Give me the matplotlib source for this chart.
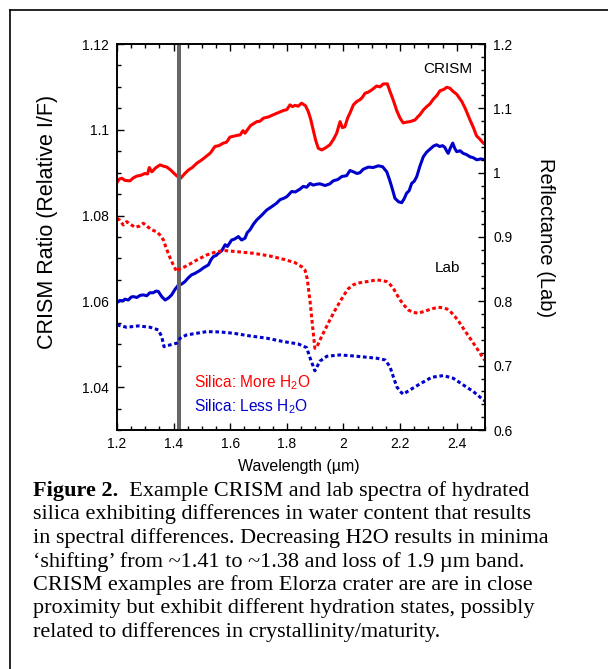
import matplotlib
matplotlib.use("Agg")
import matplotlib.pyplot as plt
from matplotlib.lines import Line2D
from matplotlib.ticker import MultipleLocator

plt.rcParams['font.family'] = ['Liberation Sans', 'DejaVu Sans']
plt.rcParams['mathtext.fontset'] = 'custom'
plt.rcParams['mathtext.rm'] = 'Liberation Sans'
plt.rcParams['mathtext.it'] = 'Liberation Sans:italic'

# --- CRISM spectra (left axis, relative I/F) ---
crism_more_x = [1.200, 1.208, 1.217, 1.228, 1.246, 1.258, 1.270, 1.285, 1.298, 1.308,
                1.314, 1.323, 1.338, 1.352, 1.365, 1.376, 1.390, 1.399, 1.412, 1.425,
                1.438, 1.452, 1.466, 1.482, 1.500, 1.517, 1.530, 1.546, 1.560, 1.576,
                1.587, 1.599, 1.612, 1.625, 1.635, 1.645, 1.652, 1.672, 1.694, 1.705,
                1.717, 1.735, 1.752, 1.770, 1.788, 1.800, 1.811, 1.820, 1.829, 1.840,
                1.852, 1.866, 1.876, 1.884, 1.893, 1.902, 1.911, 1.923, 1.937, 1.952,
                1.965, 1.976, 1.988, 1.996, 2.005, 2.015, 2.023, 2.035, 2.047, 2.058,
                2.066, 2.076, 2.088, 2.100, 2.117, 2.129, 2.141, 2.155, 2.164, 2.176,
                2.188, 2.200, 2.211, 2.224, 2.235, 2.253, 2.262, 2.270, 2.282, 2.294,
                2.305, 2.317, 2.330, 2.341, 2.354, 2.365, 2.376, 2.388, 2.400, 2.418,
                2.430, 2.447, 2.459, 2.470, 2.482, 2.494, 2.500]
crism_more_y = [1.0877, 1.0885, 1.0887, 1.0882, 1.0881, 1.0888, 1.0892, 1.0894, 1.0898, 1.0897,
                1.0912, 1.0902, 1.0912, 1.0918, 1.0915, 1.0913, 1.0906, 1.0900, 1.0892, 1.0887,
                1.0897, 1.0906, 1.0912, 1.0922, 1.0930, 1.0939, 1.0946, 1.0961, 1.0963, 1.0969,
                1.0971, 1.0983, 1.0985, 1.0987, 1.0988, 1.0998, 1.0992, 1.1010, 1.1019, 1.1020,
                1.1027, 1.1030, 1.1035, 1.1040, 1.1045, 1.1047, 1.1058, 1.1054, 1.1057, 1.1055,
                1.1062, 1.1056, 1.1042, 1.1025, 1.1000, 1.0975, 1.0957, 1.0953, 1.0958, 1.0965,
                1.0978, 1.0992, 1.1019, 1.1005, 1.1007, 1.1028, 1.1039, 1.1058, 1.1066, 1.1070,
                1.1075, 1.1085, 1.1088, 1.1093, 1.1102, 1.1100, 1.1107, 1.1107, 1.1090, 1.1069,
                1.1045, 1.1027, 1.1016, 1.1018, 1.1019, 1.1023, 1.1030, 1.1035, 1.1046, 1.1054,
                1.1060, 1.1071, 1.1080, 1.1091, 1.1094, 1.1099, 1.1097, 1.1089, 1.1083, 1.1066,
                1.1050, 1.1023, 1.1005, 1.0986, 1.0978, 1.0969, 1.0966]

crism_less_x = [1.200, 1.210, 1.220, 1.228, 1.240, 1.250, 1.258, 1.270, 1.282, 1.293,
                1.305, 1.316, 1.328, 1.338, 1.346, 1.358, 1.370, 1.382, 1.393, 1.405,
                1.417, 1.428, 1.440, 1.452, 1.464, 1.475, 1.493, 1.505, 1.523, 1.532,
                1.540, 1.550, 1.558, 1.570, 1.582, 1.590, 1.605, 1.615, 1.629, 1.640,
                1.652, 1.660, 1.670, 1.682, 1.694, 1.710, 1.729, 1.745, 1.764, 1.776,
                1.788, 1.800, 1.817, 1.830, 1.847, 1.858, 1.870, 1.882, 1.893, 1.905,
                1.917, 1.935, 1.952, 1.964, 1.980, 1.994, 2.011, 2.023, 2.035, 2.048,
                2.058, 2.070, 2.088, 2.105, 2.123, 2.138, 2.153, 2.162, 2.170, 2.182,
                2.195, 2.206, 2.215, 2.223, 2.232, 2.241, 2.250, 2.259, 2.270, 2.282,
                2.294, 2.306, 2.318, 2.329, 2.340, 2.350, 2.358, 2.365, 2.370, 2.378,
                2.386, 2.393, 2.400, 2.412, 2.423, 2.435, 2.447, 2.458, 2.471, 2.485,
                2.500]
crism_less_y = [1.0597, 1.0602, 1.0601, 1.0605, 1.0603, 1.0610, 1.0611, 1.0609, 1.0614, 1.0615,
                1.0613, 1.0620, 1.0620, 1.0624, 1.0623, 1.0611, 1.0603, 1.0608, 1.0615, 1.0628,
                1.0638, 1.0640, 1.0646, 1.0655, 1.0662, 1.0665, 1.0672, 1.0678, 1.0685, 1.0697,
                1.0704, 1.0707, 1.0712, 1.0718, 1.0732, 1.0728, 1.0743, 1.0745, 1.0751, 1.0743,
                1.0747, 1.0760, 1.0767, 1.0780, 1.0790, 1.0800, 1.0813, 1.0820, 1.0829, 1.0837,
                1.0840, 1.0844, 1.0856, 1.0855, 1.0862, 1.0868, 1.0866, 1.0875, 1.0871, 1.0873,
                1.0874, 1.0870, 1.0874, 1.0881, 1.0884, 1.0891, 1.0893, 1.0905, 1.0902, 1.0898,
                1.0900, 1.0908, 1.0913, 1.0912, 1.0916, 1.0914, 1.0902, 1.0885, 1.0868, 1.0840,
                1.0832, 1.0830, 1.0840, 1.0852, 1.0858, 1.0875, 1.0880, 1.0891, 1.0915, 1.0937,
                1.0948, 1.0955, 1.0962, 1.0965, 1.0961, 1.0963, 1.0959, 1.0950, 1.0945, 1.0958,
                1.0969, 1.0957, 1.0949, 1.0951, 1.0945, 1.0942, 1.0937, 1.0935, 1.0930, 1.0932,
                1.0930]

# --- Lab spectra (right axis, reflectance) ---
lab_more_x = [1.200, 1.210, 1.222, 1.234, 1.250, 1.264, 1.280, 1.293, 1.308, 1.323,
              1.340, 1.352, 1.364, 1.372, 1.381, 1.390, 1.399, 1.411, 1.420, 1.429,
              1.452, 1.482, 1.517, 1.552, 1.582, 1.623, 1.682, 1.740, 1.788, 1.829,
              1.852, 1.864, 1.872, 1.882, 1.890, 1.899, 1.905, 1.917, 1.935, 1.952,
              1.970, 1.988, 2.002, 2.017, 2.032, 2.047, 2.082, 2.117, 2.140, 2.153,
              2.165, 2.176, 2.188, 2.200, 2.215, 2.229, 2.245, 2.264, 2.282, 2.300,
              2.318, 2.335, 2.350, 2.365, 2.380, 2.394, 2.410, 2.423, 2.447, 2.471,
              2.494, 2.500]
lab_more_y = [0.9291, 0.9260, 0.9187, 0.9239, 0.9190, 0.9151, 0.9170, 0.9214, 0.9160, 0.9110,
              0.9083, 0.9030, 0.8954, 0.8850, 0.8747, 0.8650, 0.8566, 0.8461, 0.8500, 0.8514,
              0.8566, 0.8643, 0.8721, 0.8772, 0.8788, 0.8772, 0.8747, 0.8705, 0.8654, 0.8601,
              0.8539, 0.8488, 0.8350, 0.8000, 0.7650, 0.7271, 0.7280, 0.7400, 0.7560, 0.7711,
              0.7860, 0.7995, 0.8100, 0.8195, 0.8250, 0.8281, 0.8306, 0.8333, 0.8320, 0.8306,
              0.8260, 0.8204, 0.8110, 0.8022, 0.7935, 0.7866, 0.7830, 0.7815, 0.7840, 0.7866,
              0.7890, 0.7908, 0.7900, 0.7882, 0.7830, 0.7763, 0.7670, 0.7582, 0.7427, 0.7271,
              0.7116, 0.7080]

lab_less_x = [1.200, 1.234, 1.275, 1.317, 1.346, 1.358, 1.366, 1.387, 1.411, 1.423,
              1.446, 1.482, 1.517, 1.564, 1.611, 1.670, 1.729, 1.788, 1.840, 1.870,
              1.882, 1.899, 1.917, 1.941, 1.988, 2.035, 2.082, 2.117, 2.147, 2.164,
              2.176, 2.188, 2.200, 2.211, 2.235, 2.270, 2.312, 2.353, 2.388, 2.423,
              2.459, 2.494, 2.500]
lab_less_y = [0.7633, 0.7597, 0.7618, 0.7597, 0.7556, 0.7451, 0.7296, 0.7322, 0.7349, 0.7427,
              0.7478, 0.7504, 0.7529, 0.7524, 0.7504, 0.7462, 0.7427, 0.7374, 0.7338, 0.7280,
              0.7120, 0.6920, 0.7070, 0.7146, 0.7167, 0.7151, 0.7131, 0.7116, 0.7089, 0.6986,
              0.6830, 0.6675, 0.6600, 0.6557, 0.6623, 0.6716, 0.6820, 0.6846, 0.6804, 0.6701,
              0.6597, 0.6468, 0.6450]

band_center = 1.42

caption_lines = [
    "silica exhibiting differences in water content that results",
    "in spectral differences. Decreasing H2O results in minima",
    "\u2018shifting\u2019 from ~1.41 to ~1.38 and loss of 1.9 \u00b5m band.",
    "CRISM examples are from Elorza crater are are in close",
    "proximity but exhibit different hydration states, possibly",
    "related to differences in crystallinity/maturity.",
]

RED = "#ff0000"
BLUE = "#0000cc"

fig = plt.figure(figsize=(6.08, 6.69), dpi=100)
W, H = 608, 669

# page border (left + top edge of the boxed figure)
fig.add_artist(Line2D([10 / W, 10 / W], [0, 1 - 10 / H], color="black", lw=1.2))
fig.add_artist(Line2D([10 / W, 1], [1 - 10 / H, 1 - 10 / H], color="black", lw=1.2))

ax = fig.add_axes([117 / W, 1 - 430 / H, 368 / W, 386 / H])
ax2 = ax.twinx()

ax.plot(crism_more_x, crism_more_y, color=RED, lw=2.2)
ax.plot(crism_less_x, crism_less_y, color=BLUE, lw=2.2)
dots = (0, (1.2, 0.9))
ax2.plot(lab_more_x, lab_more_y, color=RED, lw=2.2, linestyle=dots, dash_capstyle="butt")
ax2.plot(lab_less_x, lab_less_y, color=BLUE, lw=2.2, linestyle=dots, dash_capstyle="butt")
ax.axvline(band_center, color="#666666", lw=2.9, zorder=5)

ax.set_xlim(1.2, 2.5)
ax.set_ylim(1.03, 1.12)
ax2.set_ylim(0.6, 1.2)

ax.xaxis.set_minor_locator(MultipleLocator(0.05))
ax.yaxis.set_minor_locator(MultipleLocator(0.005))
ax2.yaxis.set_minor_locator(MultipleLocator(0.02))

ax.set_xticks([1.2, 1.4, 1.6, 1.8, 2.0, 2.2, 2.4])
ax.set_xticklabels(["1.2", "1.4", "1.6", "1.8", "2", "2.2", "2.4"])
ax.set_yticks([1.04, 1.06, 1.08, 1.1, 1.12])
ax.set_yticklabels(["1.04", "1.06", "1.08", "1.1", "1.12"])
ax2.set_yticks([0.6, 0.7, 0.8, 0.9, 1.0, 1.1, 1.2])
ax2.set_yticklabels(["0.6", "0.7", "0.8", "0.9", "1", "1.1", "1.2"])

ax.tick_params(axis="x", which="both", direction="in", top=True, labelsize=10, pad=5, width=1)
ax.tick_params(axis="y", which="both", direction="in", right=False, labelsize=10, pad=6, width=1)
ax2.tick_params(axis="y", which="both", direction="in", labelsize=10, pad=6, width=1)
for a in (ax, ax2):
    a.tick_params(which="major", length=5)
    a.tick_params(which="minor", length=3)
    for sp in a.spines.values():
        sp.set_linewidth(1.2)

fig.text(48 / W, 1 - 222 / H, "CRISM Ratio (Relative I/F)", rotation=90,
         ha="center", va="center", fontsize=15.5)
fig.text(545 / W, 1 - 238 / H, "Reflectance (Lab)", rotation=-90,
         ha="center", va="center", fontsize=14.5)
fig.text(299 / W, 1 - 467 / H, "Wavelength (\u00b5m)", ha="center", va="center", fontsize=11.5)

ax.text(0.9666, 0.924, "CRISM", transform=ax.transAxes, ha="right", va="baseline", fontsize=11)
ax.text(0.932, 0.410, "Lab", transform=ax.transAxes, ha="right", va="baseline", fontsize=11)
ax.text(0.2092, 0.1114, "Silica: More H$_2$O", transform=ax.transAxes, color=RED,
        ha="left", va="baseline", fontsize=11.2)
ax.text(0.2092, 0.0474, "Silica: Less H$_2$O", transform=ax.transAxes, color=BLUE,
        ha="left", va="baseline", fontsize=11.2)

# --- caption ---
cap_font = dict(family="Liberation Serif", fontsize=16)
x0 = 33 / W
t0 = fig.text(x0, 1 - 496 / H, "Figure 2.", fontweight="bold", ha="left", va="baseline", **cap_font)
fig.add_artist(plt.Annotation("  Example CRISM and lab spectra of hydrated", xy=(1, 0),
                              xycoords=t0, va="bottom", ha="left", **cap_font))
for i, line in enumerate(caption_lines):
    fig.text(x0, 1 - (519.5 + 23.5 * i) / H, line, ha="left", va="baseline", **cap_font)

fig.savefig("out.png", dpi=100)
